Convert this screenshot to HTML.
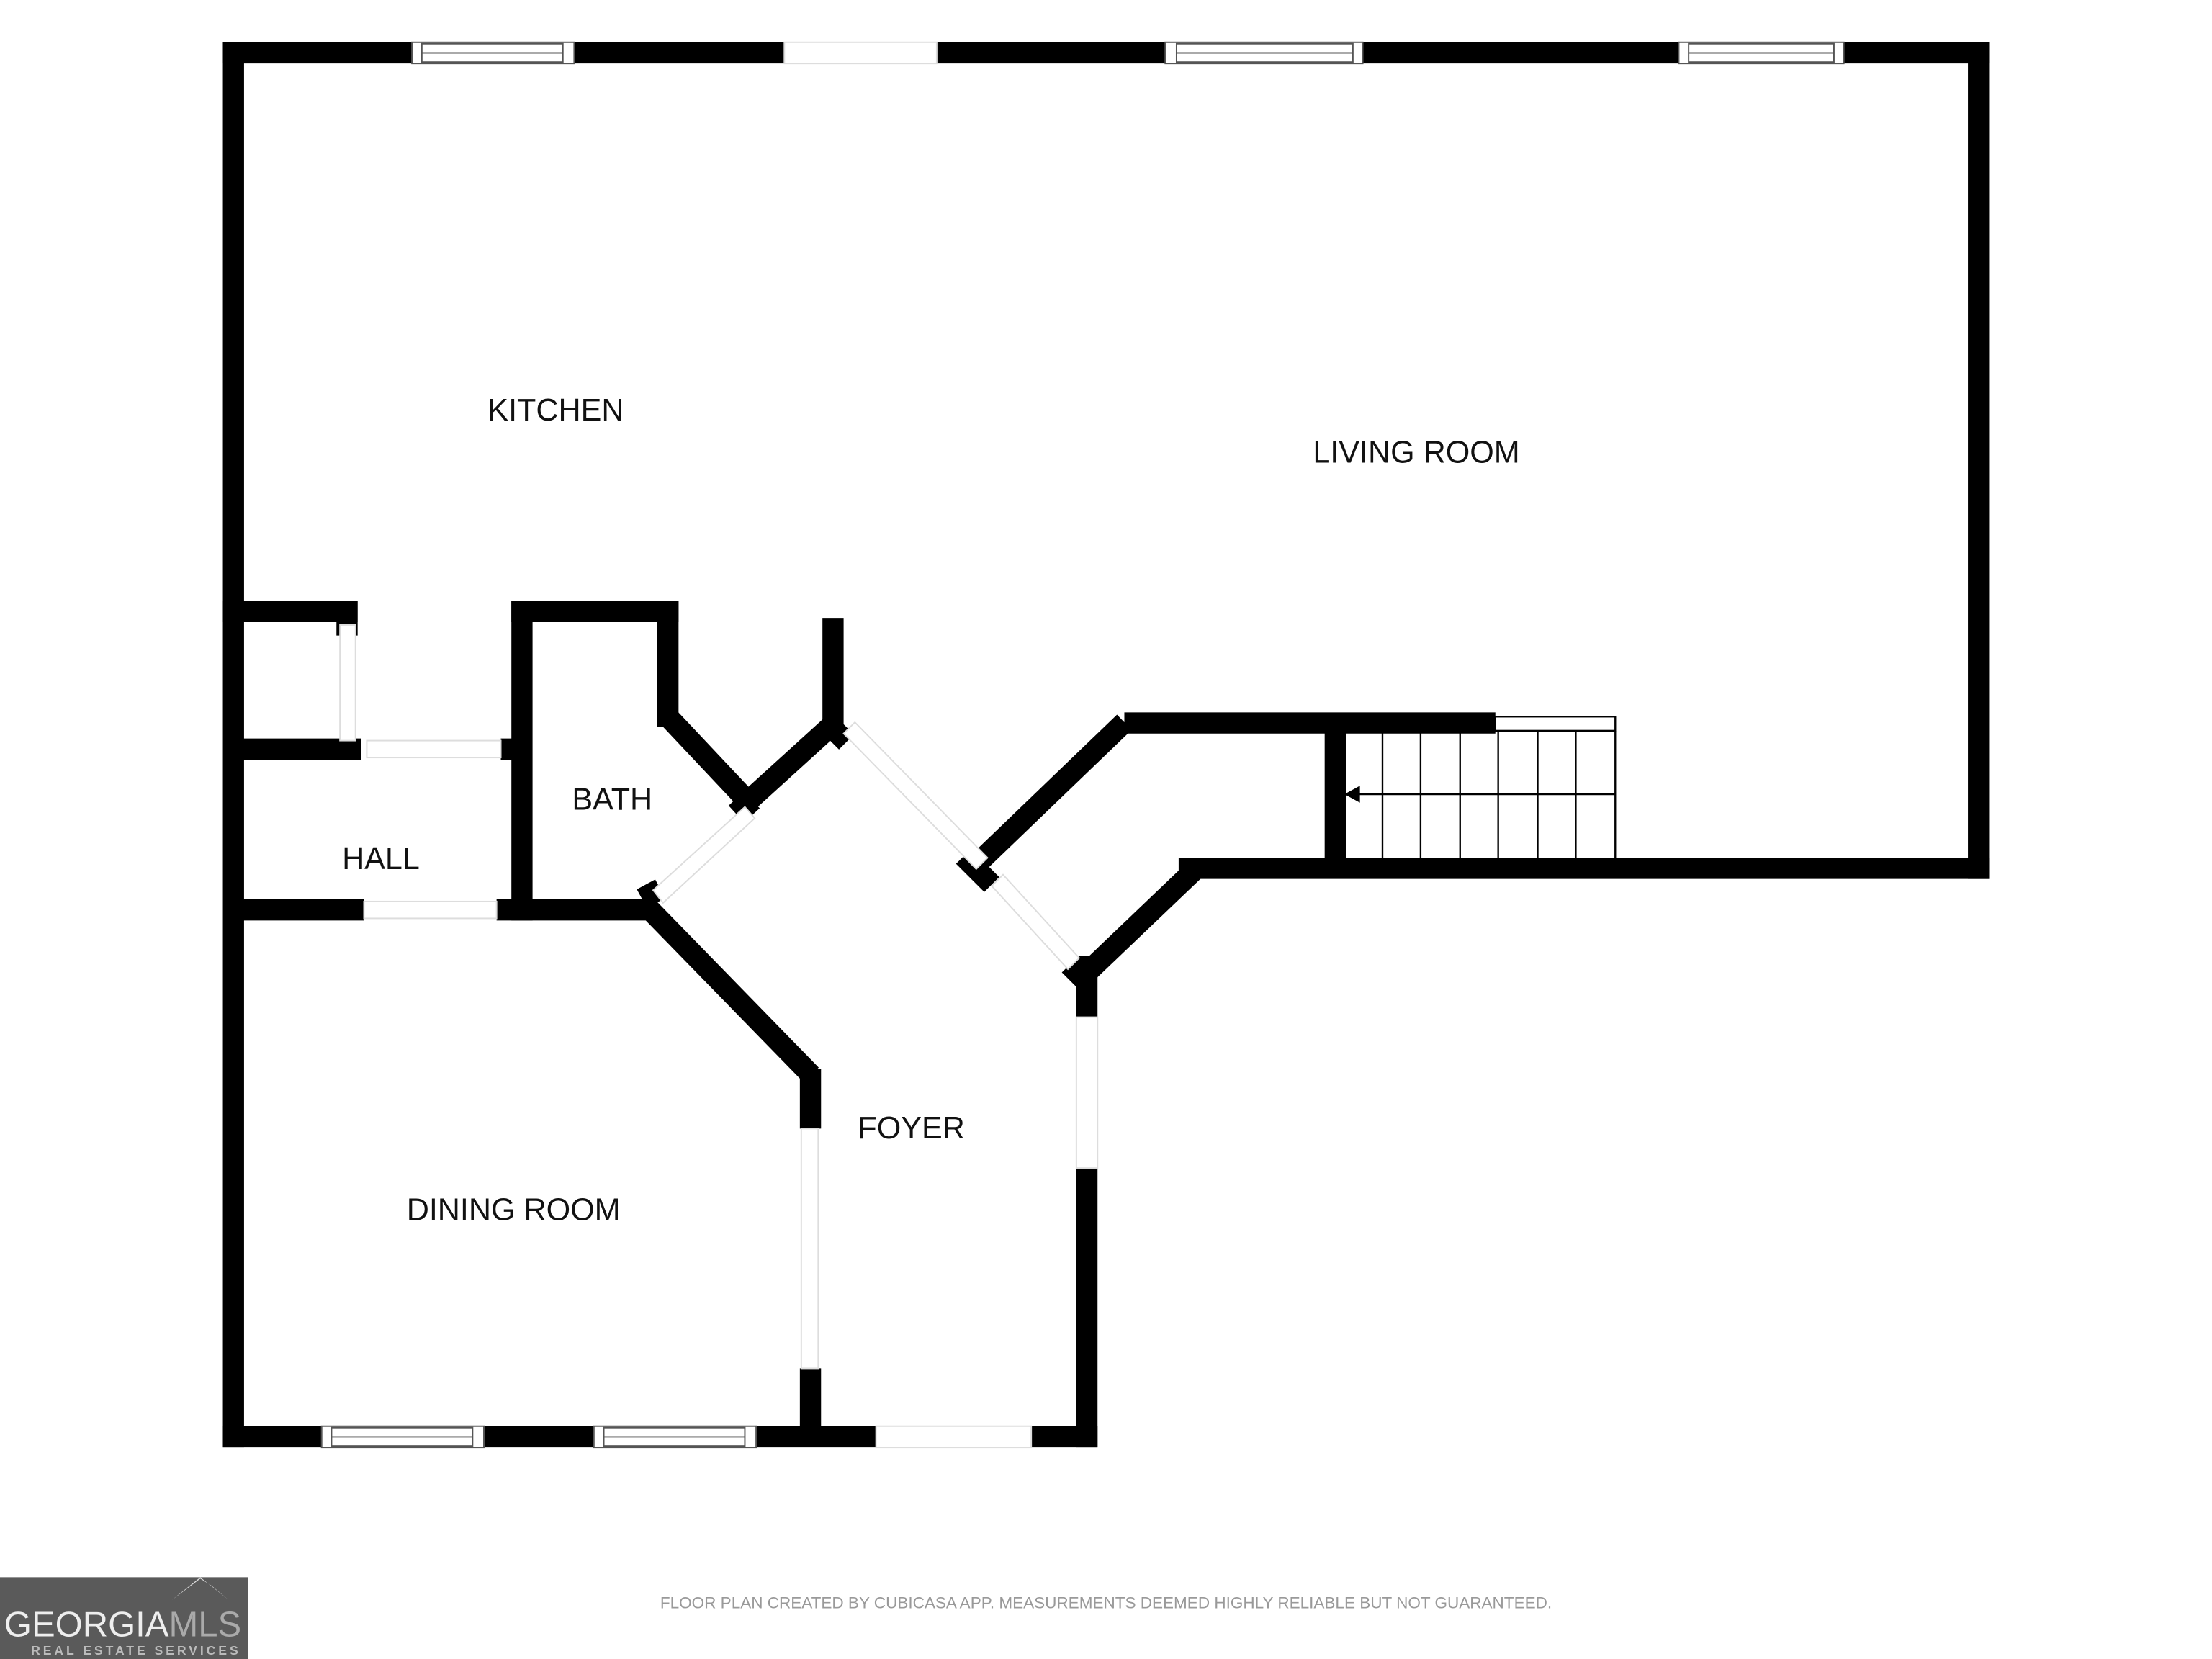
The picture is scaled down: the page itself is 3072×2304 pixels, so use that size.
<!DOCTYPE html>
<html><head><meta charset="utf-8"><style>
html,body{margin:0;padding:0;background:#fff;}
svg{display:block;}
text{font-family:"Liberation Sans","DejaVu Sans",sans-serif;}
</style></head><body>
<svg width="3072" height="2304" viewBox="0 0 1568 1176" xmlns="http://www.w3.org/2000/svg">
<rect width="1568" height="1176" fill="#fff"/>
<g stroke="#000" stroke-width="15" fill="none" stroke-linecap="square">
<!-- outer -->
<line x1="165.5" y1="37.5" x2="1402.5" y2="37.5"/>
<line x1="165.5" y1="37.5" x2="165.5" y2="1018.5"/>
<line x1="1402.5" y1="37.5" x2="1402.5" y2="615.5"/>
<line x1="843" y1="615.5" x2="1402.5" y2="615.5"/>
<line x1="848" y1="615.5" x2="770" y2="690" stroke-linecap="butt"/>
<line x1="770.5" y1="685" x2="770.5" y2="1018.5"/>
<line x1="165.5" y1="1018.5" x2="770.5" y2="1018.5"/>
<!-- hall / closet -->
<line x1="165.5" y1="433.5" x2="246" y2="433.5"/>
<line x1="246" y1="433.5" x2="246" y2="443"/>
<line x1="165.5" y1="531" x2="256" y2="531" stroke-linecap="butt"/>
<line x1="355" y1="531" x2="370" y2="531" stroke-linecap="butt"/>
<line x1="165.5" y1="645" x2="258" y2="645" stroke-linecap="butt"/>
<line x1="352" y1="645" x2="458" y2="645" stroke-linecap="butt"/>
<!-- bath -->
<line x1="370" y1="433.5" x2="370" y2="645"/>
<line x1="370" y1="433.5" x2="473.5" y2="433.5"/>
<line x1="473.5" y1="433.5" x2="473.5" y2="508"/>
<line x1="473.5" y1="508" x2="530" y2="568" stroke-linecap="butt"/>
<line x1="526" y1="572" x2="592" y2="512" stroke-linecap="butt"/>
<line x1="590.5" y1="438" x2="590.5" y2="515" stroke-linecap="butt"/>
<line x1="588" y1="514" x2="600" y2="526" stroke-linecap="butt"/>
<line x1="522" y1="566" x2="533" y2="578" stroke-linecap="butt"/>
<line x1="455" y1="637" x2="468" y2="630" stroke-linecap="butt"/>
<!-- dining diag -->
<line x1="458" y1="642" x2="575" y2="762" stroke-linecap="butt"/>
<line x1="574.5" y1="758" x2="574.5" y2="800" stroke-linecap="butt"/>
<line x1="574.5" y1="970" x2="574.5" y2="1018.5" stroke-linecap="butt"/>
<!-- living diag -->
<line x1="693" y1="612" x2="797" y2="512" stroke-linecap="butt"/>
<line x1="683" y1="607" x2="703" y2="627" stroke-linecap="butt"/>
<line x1="797" y1="512.5" x2="1060" y2="512.5" stroke-linecap="butt"/>
<line x1="946.5" y1="512" x2="946.5" y2="615" stroke-linecap="butt"/>
<line x1="758" y1="684" x2="772" y2="698" stroke-linecap="butt"/>
</g>
<!-- openings / windows -->
<g fill="#fff" stroke="#555" stroke-width="1">
<rect x="292" y="30" width="115" height="15"/><rect x="299" y="31" width="100" height="13"/><line x1="299" y1="37.5" x2="399" y2="37.5"/>
<rect x="826" y="30" width="140" height="15"/><rect x="834" y="31" width="125" height="13"/><line x1="834" y1="37.5" x2="959" y2="37.5"/>
<rect x="1190" y="30" width="117" height="15"/><rect x="1197" y="31" width="103" height="13"/><line x1="1197" y1="37.5" x2="1300" y2="37.5"/>
<rect x="228" y="1011" width="115" height="15"/><rect x="235" y="1012" width="100" height="13"/><line x1="235" y1="1018.5" x2="335" y2="1018.5"/>
<rect x="421" y="1011" width="115" height="15"/><rect x="428" y="1012" width="100" height="13"/><line x1="428" y1="1018.5" x2="528" y2="1018.5"/>
</g>
<g fill="#fff" stroke="#ddd" stroke-width="1">
<rect x="556" y="30" width="108" height="15"/>
<rect x="621" y="1011" width="110" height="15"/>
<rect x="241" y="443" width="11" height="82"/>
<rect x="260" y="525" width="95" height="12"/>
<rect x="258" y="639" width="94" height="12"/>
<rect x="763" y="721" width="15" height="107"/>
<rect x="568" y="800" width="12" height="170"/>
<polygon points="463,631 528,572 535,580 470,640"/>
<polygon points="598,520 606,512 700,608 692,616"/>
<polygon points="703,628 711,620 765,679 757,687"/>
</g>
<!-- stairs -->
<rect x="1060" y="508" width="85" height="10" fill="#fff" stroke="#000" stroke-width="1.2"/>
<g stroke="#000" stroke-width="1.2">
<line x1="980" y1="518" x2="980" y2="608"/><line x1="1007" y1="518" x2="1007" y2="608"/>
<line x1="1035" y1="518" x2="1035" y2="608"/><line x1="1062" y1="518" x2="1062" y2="608"/>
<line x1="1090" y1="518" x2="1090" y2="608"/><line x1="1117" y1="518" x2="1117" y2="608"/>
<line x1="1145" y1="518" x2="1145" y2="608"/>
<line x1="960" y1="563" x2="1145" y2="563"/>
</g>
<polygon points="953,563 964,557 964,569" fill="#000"/>
<!-- labels -->
<g font-size="22" fill="#111" text-anchor="middle">
<text x="394" y="298">KITCHEN</text>
<text x="1004" y="328">LIVING ROOM</text>
<text x="434" y="574">BATH</text>
<text x="270" y="616">HALL</text>
<text x="646" y="807">FOYER</text>
<text x="364" y="865">DINING ROOM</text>
</g>
<text x="784" y="1140" font-size="11.5" fill="#999" text-anchor="middle">FLOOR PLAN CREATED BY CUBICASA APP. MEASUREMENTS DEEMED HIGHLY RELIABLE BUT NOT GUARANTEED.</text>
<!-- logo -->
<rect x="0" y="1118" width="176" height="58" fill="#5a5a5a"/>
<polygon points="122,1134 142,1118 162,1134 150,1124 142,1119" fill="#ddd"/>
<text x="3" y="1160" font-size="25" fill="#eee">GEORGIA<tspan fill="#aaa">MLS</tspan></text>
<text x="22" y="1173" font-size="9" fill="#bbb" letter-spacing="2" font-weight="bold">REAL ESTATE SERVICES</text>
</svg>
</body></html>
